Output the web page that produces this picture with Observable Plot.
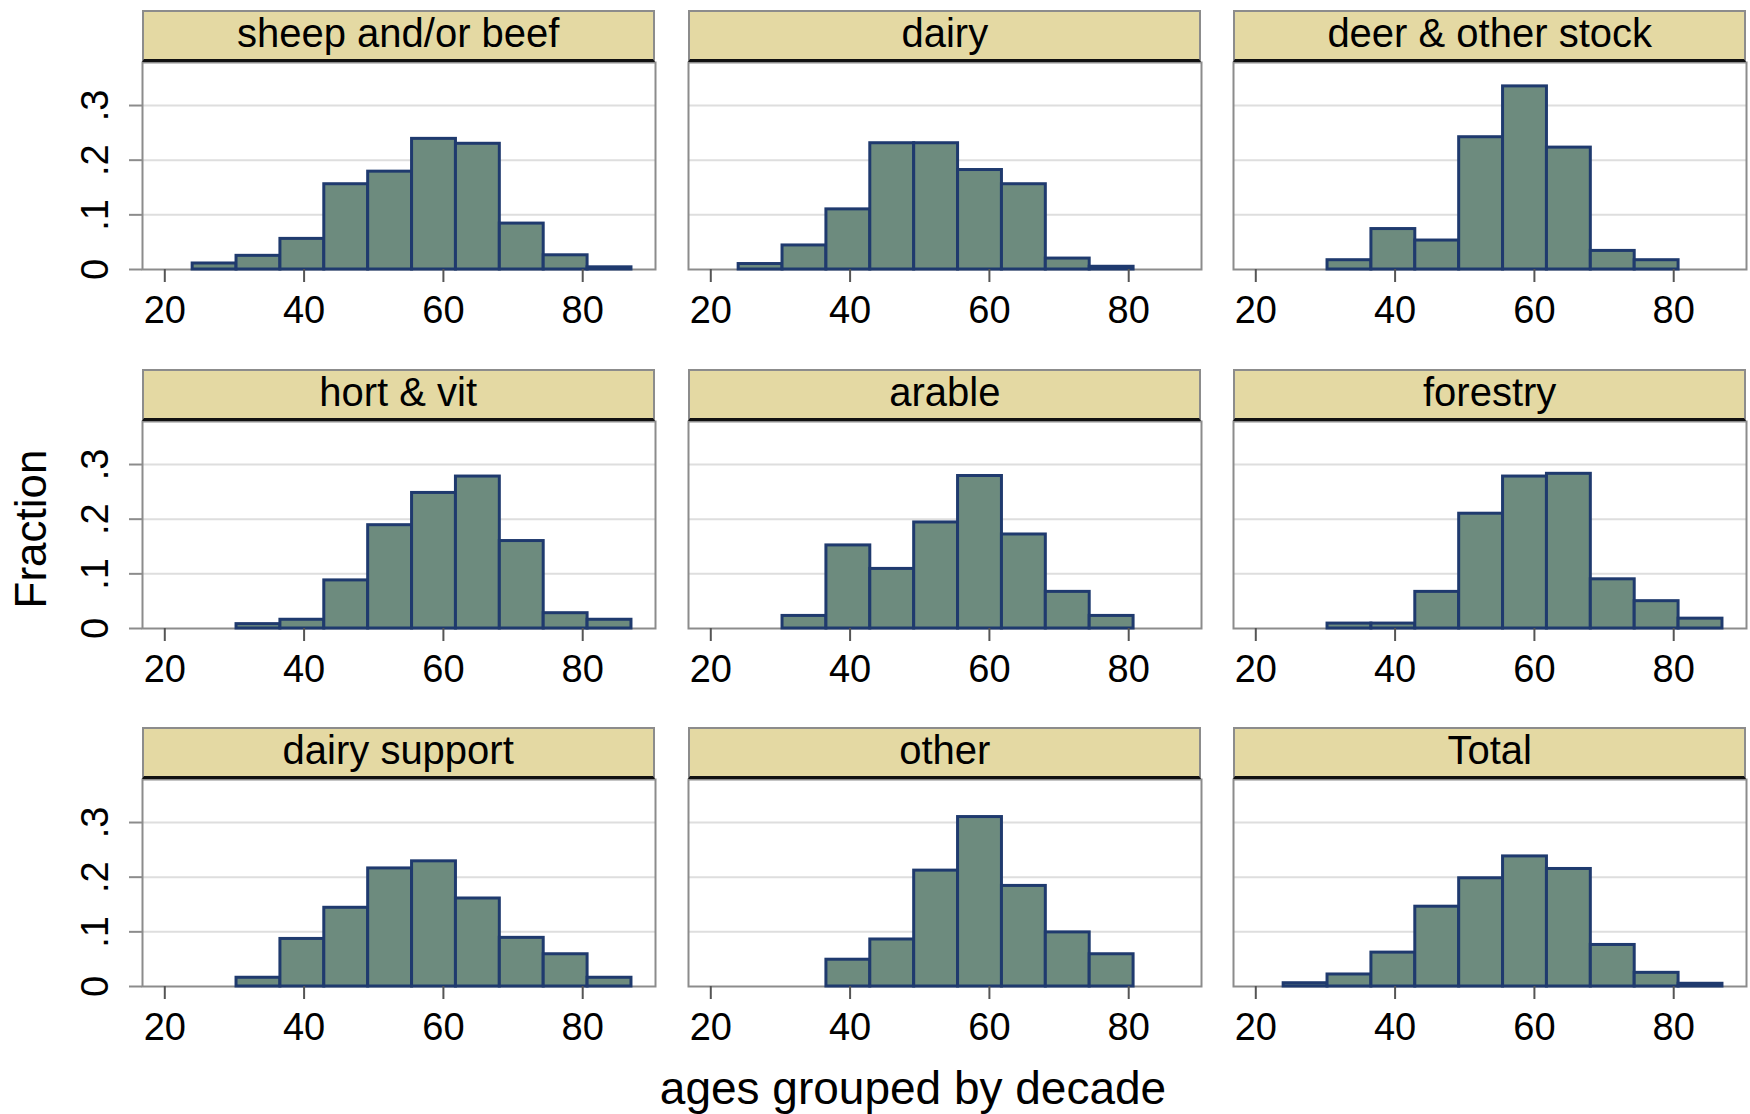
<!DOCTYPE html>
<html>
<head>
<meta charset="utf-8">
<script src="https://cdn.jsdelivr.net/npm/d3@7"></script>
<script src="https://cdn.jsdelivr.net/npm/@observablehq/plot@0.6"></script>
<style>
  html, body { margin: 0; padding: 0; background: #fff; }
  #chart { position: relative; width: 1750px; height: 1114px; background: #fff; overflow: hidden;
           font-family: "Liberation Sans", Arial, sans-serif; color: #000; }
  .strip { position: absolute; box-sizing: border-box; background: #e4d9a3;
           border-top: 2px solid #8c8c8c; border-left: 2px solid #8c8c8c; border-right: 2px solid #8c8c8c;
           border-bottom: 3px solid #111; display: flex; align-items: center; justify-content: center;
           font-size: 40px; z-index: 2; white-space: nowrap; padding-bottom: 4px; }
  .panel { position: absolute; z-index: 1; }
  .panel svg { background: transparent; max-width: none; }
  .ytitle { position: absolute; font-size: 44px; transform: translate(-50%, -50%) rotate(-90deg); white-space: nowrap; }
  .xtitle { position: absolute; font-size: 46px; transform: translate(-50%, -50%); white-space: nowrap; }
</style>
</head>
<body>
<div id="chart"></div>
<script>
// ---- data (fractions) ----
const panelTitles = ["sheep and/or beef", "dairy", "deer & other stock",
                     "hort & vit", "arable", "forestry",
                     "dairy support", "other", "Total"];
const binEdges = [24, 30.3, 36.6, 42.9, 49.2, 55.5, 61.8, 68.1, 74.4, 80.7, 87];
const sheepBeef     = [0.011, 0.025, 0.056, 0.156, 0.179, 0.239, 0.230, 0.084, 0.026, 0.004];
const dairy         = [0.010, 0.044, 0.110, 0.231, 0.231, 0.182, 0.156, 0.020, 0.005, 0];
const deerOther     = [0, 0.017, 0.074, 0.053, 0.242, 0.335, 0.223, 0.034, 0.017, 0];
const hortVit       = [0, 0.008, 0.016, 0.088, 0.189, 0.248, 0.278, 0.160, 0.028, 0.016];
const arable        = [0, 0.023, 0.152, 0.109, 0.194, 0.279, 0.172, 0.067, 0.023, 0];
const forestry      = [0, 0.009, 0.009, 0.067, 0.210, 0.278, 0.283, 0.090, 0.050, 0.018];
const dairySupport  = [0, 0.016, 0.087, 0.144, 0.216, 0.229, 0.161, 0.089, 0.059, 0.016];
const other         = [0, 0, 0.049, 0.086, 0.212, 0.310, 0.184, 0.099, 0.059, 0];
const total         = [0.006, 0.022, 0.062, 0.146, 0.198, 0.238, 0.215, 0.076, 0.025, 0.005];
const xTicks = [20, 40, 60, 80];
const yTicks = [0, 0.1, 0.2, 0.3];
const yTickLabels = ["0", ".1", ".2", ".3"];
const yTitle = "Fraction";
const xTitle = "ages grouped by decade";

const seriesList = [sheepBeef, dairy, deerOther, hortVit, arable, forestry, dairySupport, other, total];

// ---- layout ----
const colLeft = [141.7, 688.3, 1233.2];
const plotW = 513;
const rowTop = [10, 368.5, 726.5];
const stripH = 52;
const plotH = 207;
const mL = 80, mR = 6, mT = 4, mB = 70;

const chart = document.getElementById("chart");

seriesList.forEach((values, i) => {
  const r = Math.floor(i / 3), c = i % 3;
  const bins = values.map((v, k) => ({x1: binEdges[k], x2: binEdges[k + 1], y: v})).filter(d => d.y > 0);

  const strip = document.createElement("div");
  strip.className = "strip";
  strip.style.left = colLeft[c] + "px";
  strip.style.top = rowTop[r] + "px";
  strip.style.width = plotW + "px";
  strip.style.height = stripH + "px";
  strip.textContent = panelTitles[i];
  chart.appendChild(strip);

  const marks = [
    Plot.gridY(yTicks.slice(1), {stroke: "#dedede", strokeOpacity: 1, strokeWidth: 2}),
    Plot.frame({stroke: "#8c8c8c", strokeWidth: 2}),
    Plot.rectY(bins, {x1: "x1", x2: "x2", y: "y", fill: "#6d8b7e", stroke: "#1f3a6e", strokeWidth: 3}),
    Plot.axisX(xTicks, {tickSize: 13, tickPadding: 14, stroke: "#555", strokeWidth: 2, fill: "#000", fontSize: 38, label: null}),
  ];
  if (c === 0) {
    marks.push(Plot.axisY(yTicks, {tickSize: 13, stroke: "#8c8c8c", strokeWidth: 2, tickFormat: () => "", label: null}));
    marks.push(Plot.text(yTicks, {y: d => d, text: (d, k) => yTickLabels[k], frameAnchor: "left", dx: -47,
                                  rotate: -90, textAnchor: "middle", lineAnchor: "middle", fontSize: 38, fill: "#000"}));
  }

  const svg = Plot.plot({
    width: plotW + mL + mR,
    height: plotH + mT + mB,
    marginLeft: mL, marginRight: mR, marginTop: mT, marginBottom: mB,
    x: {domain: [16.8, 90.45], axis: null},
    y: {domain: [0, 0.3787], axis: null},
    style: {fontFamily: "Liberation Sans, Arial, sans-serif", fontSize: "38px", background: "transparent", color: "#000"},
    marks
  });
  const wrap = document.createElement("div");
  wrap.className = "panel";
  wrap.style.left = (colLeft[c] - mL) + "px";
  wrap.style.top = (rowTop[r] + stripH - mT) + "px";
  wrap.appendChild(svg);
  chart.appendChild(wrap);
});

const yt = document.createElement("div");
yt.className = "ytitle";
yt.style.left = "31px";
yt.style.top = "529px";
yt.textContent = yTitle;
chart.appendChild(yt);

const xt = document.createElement("div");
xt.className = "xtitle";
xt.style.left = "913px";
xt.style.top = "1088px";
xt.textContent = xTitle;
chart.appendChild(xt);
</script>
</body>
</html>
